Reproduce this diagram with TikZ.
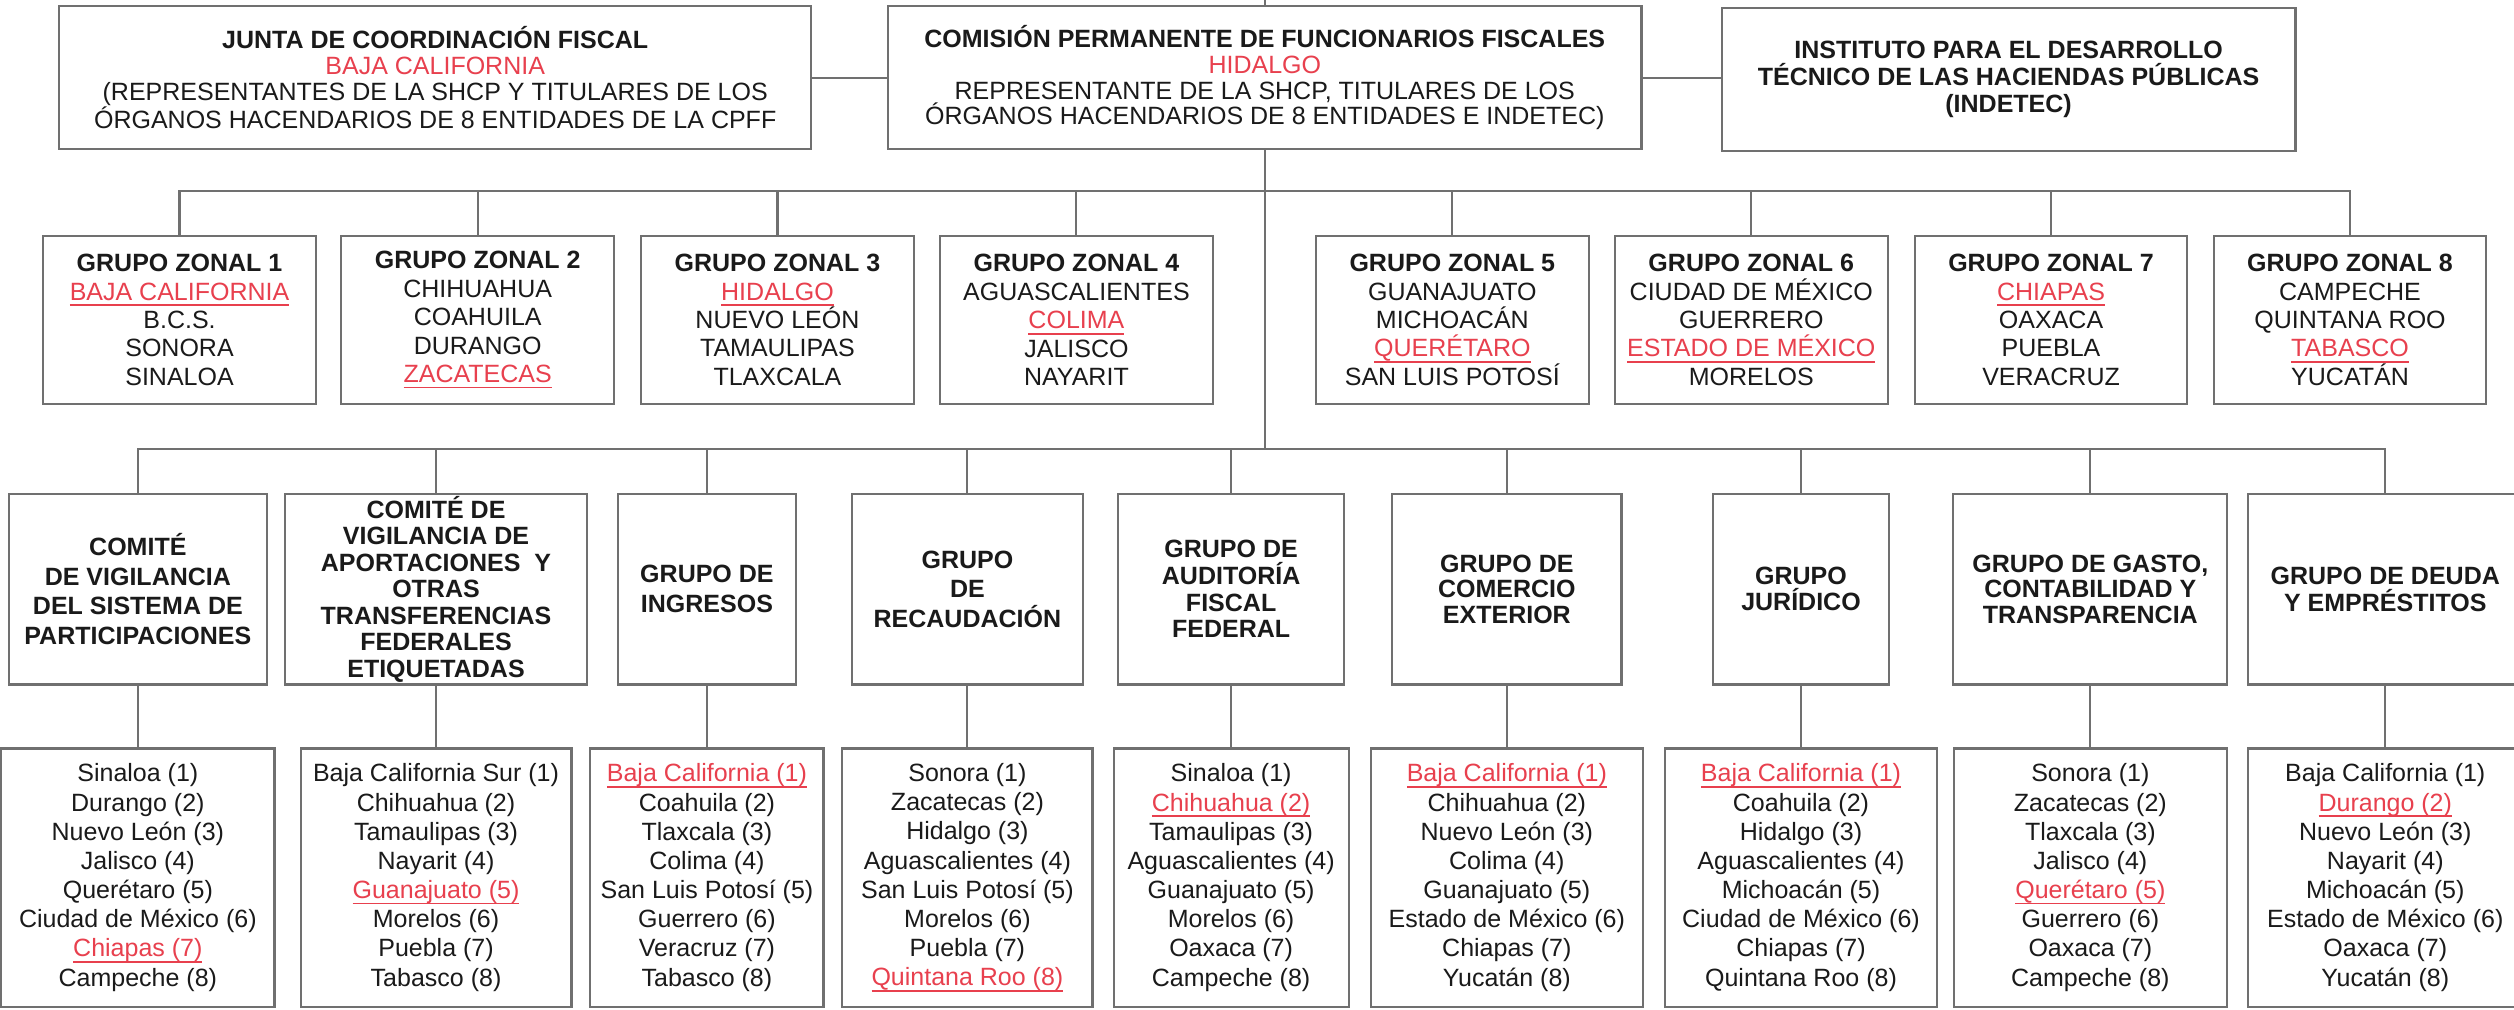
\documentclass[tikz,border=0pt]{standalone}
\usepackage{fontspec}
\setmainfont{Liberation Sans}
\definecolor{ln}{HTML}{707070}
\definecolor{tx}{HTML}{1A1A1A}
\definecolor{rd}{HTML}{E8404E}
\newcommand{\redu}[1]{\textcolor{rd}{\setbox0\hbox{#1}\rlap{\rule[-3.7pt]{\wd0}{1.1pt}}\box0}}
\newcommand{\redt}[1]{\textcolor{rd}{#1}}
\newcommand{\fz}[1]{\fontsize{15.6}{#1}\selectfont}
\newcommand{\fzb}[1]{\fontsize{15.6}{#1}\selectfont\bfseries}
\begin{document}
\begin{tikzpicture}[x=1pt,y=-1pt,
  box/.style={draw=ln, line width=1.3pt, fill=white, text=tx, align=center, inner sep=0pt, font=\fz{18.2}},
  conn/.style={draw=ln, line width=1.3pt},
  topbox/.style={box, minimum height=89pt, font=\fz{16.1}},
  zbox/.style={box, minimum width=170pt, minimum height=105pt, font=\fz{17.7}},
  cbox/.style={box, minimum height=119pt, font=\fzb{16.5}},
  lbox/.style={box, minimum height=161pt, font=\fz{18.2}}]
\path[use as bounding box, clip] (0,0) rectangle (1568.3,630);
\fill[white] (0,0) rectangle (1568.3,630);
\coordinate (topedge) at (0,0);
\coordinate (zbus) at (0,119);
\coordinate (cbus) at (0,280);

% top row
\node[topbox, minimum width=469pt] (jcf) at (271.5,48.5) {\textbf{JUNTA DE COORDINACIÓN FISCAL}\\\redt{BAJA CALIFORNIA}\\(REPRESENTANTES DE LA SHCP Y TITULARES DE LOS\\ÓRGANOS HACENDARIOS DE 8 ENTIDADES DE LA CPFF};
\node[topbox, minimum width=470pt] (cpff) at (789,48.5) {\textbf{COMISIÓN PERMANENTE DE FUNCIONARIOS FISCALES}\\\redt{HIDALGO}\\REPRESENTANTE DE LA SHCP, TITULARES DE LOS\\ÓRGANOS HACENDARIOS DE 8 ENTIDADES E INDETEC)};
\node[topbox, minimum width=358pt, font=\fzb{16.9}] (idt) at (1253,49.5) {INSTITUTO PARA EL DESARROLLO\\TÉCNICO DE LAS HACIENDAS PÚBLICAS\\(INDETEC)};

% zonal groups
\node[zbox] (z1) at (112,199.6) {\textbf{GRUPO ZONAL 1}\\\redu{BAJA CALIFORNIA}\\B.C.S.\\SONORA\\SINALOA};
\node[zbox] (z2) at (298,199.6) {\textbf{GRUPO ZONAL 2}\\CHIHUAHUA\\COAHUILA\\DURANGO\\\redu{ZACATECAS}};
\node[zbox] (z3) at (485,199.6) {\textbf{GRUPO ZONAL 3}\\\redu{HIDALGO}\\NUEVO LEÓN\\TAMAULIPAS\\TLAXCALA};
\node[zbox] (z4) at (671.5,199.6) {\textbf{GRUPO ZONAL 4}\\AGUASCALIENTES\\\redu{COLIMA}\\JALISCO\\NAYARIT};
\node[zbox] (z5) at (906,199.6) {\textbf{GRUPO ZONAL 5}\\GUANAJUATO\\MICHOACÁN\\\redu{QUERÉTARO}\\SAN LUIS POTOSÍ};
\node[zbox] (z6) at (1092.5,199.6) {\textbf{GRUPO ZONAL 6}\\CIUDAD DE MÉXICO\\GUERRERO\\\redu{ESTADO DE MÉXICO}\\MORELOS};
\node[zbox] (z7) at (1279.5,199.6) {\textbf{GRUPO ZONAL 7}\\\redu{CHIAPAS}\\OAXACA\\PUEBLA\\VERACRUZ};
\node[zbox] (z8) at (1466,199.6) {\textbf{GRUPO ZONAL 8}\\CAMPECHE\\QUINTANA ROO\\\redu{TABASCO}\\YUCATÁN};

% committees
\node[cbox, minimum width=161pt, font=\fzb{18.4}] (c1) at (86,367.5) {COMITÉ\\DE VIGILANCIA\\DEL SISTEMA DE\\PARTICIPACIONES};
\node[cbox, minimum width=188pt, font=\fzb{16.5}] (c2) at (272,367.5) {COMITÉ DE\\VIGILANCIA DE\\APORTACIONES~ Y\\OTRAS\\TRANSFERENCIAS\\FEDERALES\\ETIQUETADAS};
\node[cbox, minimum width=111.5pt, font=\fzb{18.8}] (c3) at (441,367.5) {GRUPO DE\\INGRESOS};
\node[cbox, minimum width=144pt, font=\fzb{18.5}] (c4) at (603.5,367.5) {GRUPO\\DE\\RECAUDACIÓN};
\node[cbox, minimum width=141pt, font=\fzb{16.6}] (c5) at (768,367.5) {GRUPO DE\\AUDITORÍA\\FISCAL\\FEDERAL};
\node[cbox, minimum width=143pt, font=\fzb{15.9}] (c6) at (940,367.5) {GRUPO DE\\COMERCIO\\EXTERIOR};
\node[cbox, minimum width=109.4pt, font=\fzb{16.3}] (c7) at (1123.5,367.5) {GRUPO\\JURÍDICO};
\node[cbox, minimum width=171pt, font=\fzb{15.9}] (c8) at (1304,367.5) {GRUPO DE GASTO,\\CONTABILIDAD Y\\TRANSPARENCIA};
\node[cbox, minimum width=171pt, font=\fzb{17}] (c9) at (1488,367.5) {GRUPO DE DEUDA\\Y EMPRÉSTITOS};

% member lists
\node[lbox, minimum width=170.5pt] (l1) at (86,547.4) {Sinaloa (1)\\Durango (2)\\Nuevo León (3)\\Jalisco (4)\\Querétaro (5)\\Ciudad de México (6)\\\redu{Chiapas (7)}\\Campeche (8)};
\node[lbox, minimum width=169pt] (l2) at (272,547.4) {Baja California Sur (1)\\Chihuahua (2)\\Tamaulipas (3)\\Nayarit (4)\\\redu{Guanajuato (5)}\\Morelos (6)\\Puebla (7)\\Tabasco (8)};
\node[lbox, minimum width=145.4pt] (l3) at (441,547.4) {\redu{Baja California (1)}\\Coahuila (2)\\Tlaxcala (3)\\Colima (4)\\San Luis Potosí (5)\\Guerrero (6)\\Veracruz (7)\\Tabasco (8)};
\node[lbox, minimum width=156pt] (l4) at (603.5,547.4) {Sonora (1)\\Zacatecas (2)\\Hidalgo (3)\\Aguascalientes (4)\\San Luis Potosí (5)\\Morelos (6)\\Puebla (7)\\\redu{Quintana Roo (8)}};
\node[lbox, minimum width=146.5pt] (l5) at (768,547.4) {Sinaloa (1)\\\redu{Chihuahua (2)}\\Tamaulipas (3)\\Aguascalientes (4)\\Guanajuato (5)\\Morelos (6)\\Oaxaca (7)\\Campeche (8)};
\node[lbox, minimum width=170pt] (l6) at (940,547.4) {\redu{Baja California (1)}\\Chihuahua (2)\\Nuevo León (3)\\Colima (4)\\Guanajuato (5)\\Estado de México (6)\\Chiapas (7)\\Yucatán (8)};
\node[lbox, minimum width=170pt] (l7) at (1123.5,547.4) {\redu{Baja California (1)}\\Coahuila (2)\\Hidalgo (3)\\Aguascalientes (4)\\Michoacán (5)\\Ciudad de México (6)\\Chiapas (7)\\Quintana Roo (8)};
\node[lbox, minimum width=170pt] (l8) at (1304,547.4) {Sonora (1)\\Zacatecas (2)\\Tlaxcala (3)\\Jalisco (4)\\\redu{Querétaro (5)}\\Guerrero (6)\\Oaxaca (7)\\Campeche (8)};
\node[lbox, minimum width=171pt] (l9) at (1488,547.4) {Baja California (1)\\\redu{Durango (2)}\\Nuevo León (3)\\Nayarit (4)\\Michoacán (5)\\Estado de México (6)\\Oaxaca (7)\\Yucatán (8)};

% connectors
\draw[conn] (jcf.east) -- (cpff.west);
\draw[conn] (cpff.east) -- (idt.west |- cpff.east);
\draw[conn] (cpff.north) -- (cpff.north |- topedge);
\coordinate (zj) at (cpff.south |- zbus);
\coordinate (cj) at (cpff.south |- cbus);
\draw[conn] (cpff.south) -- (cj);
\foreach \n in {z1,z2,z3,z4,z5,z6,z7,z8} {\draw[conn] (zj) -| (\n.north);}
\foreach \n in {c1,c2,c3,c4,c5,c6,c7,c8,c9} {\draw[conn] (cj) -| (\n.north);}
\foreach \a/\b in {c1/l1,c2/l2,c3/l3,c4/l4,c5/l5,c6/l6,c7/l7,c8/l8,c9/l9} {\draw[conn] (\a.south) -- (\b.north);}
\end{tikzpicture}
\end{document}
